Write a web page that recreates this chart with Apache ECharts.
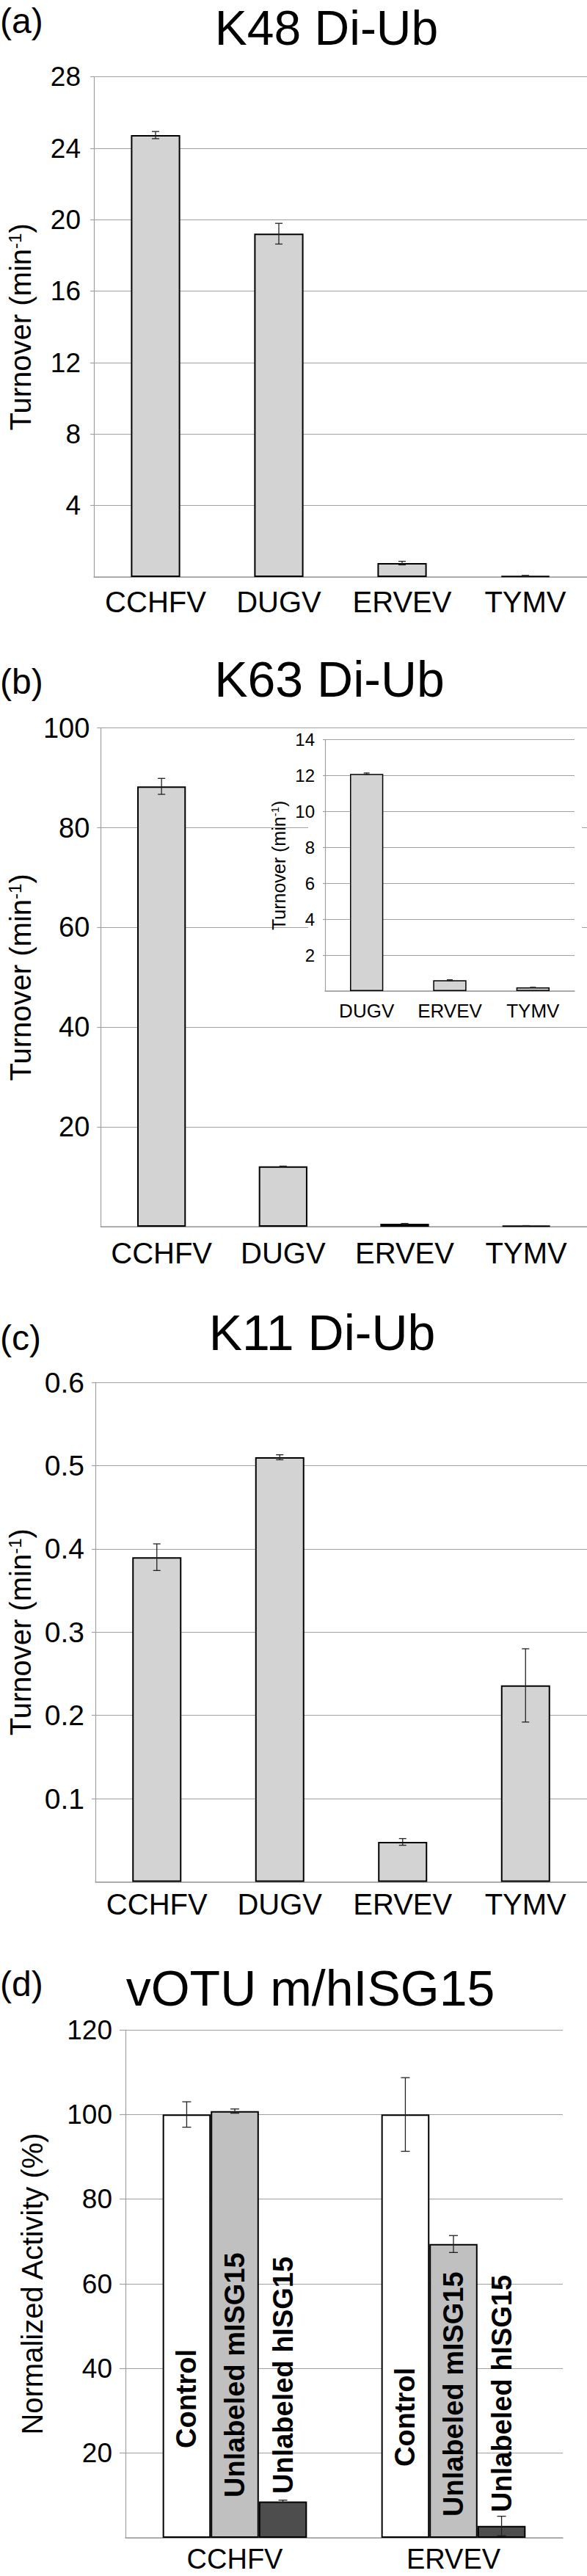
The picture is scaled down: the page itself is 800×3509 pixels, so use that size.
<!DOCTYPE html>
<html lang="en">
<head>
<meta charset="UTF-8">
<title>vOTU Di-Ub / ISG15</title>
<script src="https://cdn.jsdelivr.net/npm/echarts@6/dist/echarts.min.js"></script>
</head>
<body style="margin:0;width:800px;height:3509px;background:#fff">
<div id="container" style="width:800px;height:3509px"></div>
<script>
// (a) K48 Di-Ub
var virusCats = ['CCHFV', 'DUGV', 'ERVEV', 'TYMV'];
var k48Vals = [24.74, 19.22, 0.78, 0.07];
var k48Err = [0.2, 0.58, 0.1, 0.02];
// (b) K63 Di-Ub + inset
var k63Vals = [88.3, 12.1, 0.6, 0.2];
var k63Err = [1.6, 0.05, 0.05, 0.02];
var insetCats = ['DUGV', 'ERVEV', 'TYMV'];
var insetVals = [12.1, 0.6, 0.2];
var insetErr = [0.05, 0.03, 0.01];
// (c) K11 Di-Ub
var k11Vals = [0.39, 0.51, 0.048, 0.236];
var k11Err = [0.016, 0.003, 0.004, 0.044];
// (d) vOTU m/hISG15
var isgCats = ['CCHFV', 'ERVEV'];
var controlVals = [100, 100];
var controlErr = [3, 8.7];
var mIsgVals = [100.8, 69.4];
var mIsgErr = [0.5, 2];
var hIsgVals = [8.6, 2.8];
var hIsgErr = [0.3, 2.3];

// label lift above the bar bottom (px), per group
var ctrlLift = [122, 97];
var mLift = [55, 29];
var hLift = [60, 35];

var FONT = '"Liberation Sans", Arial, sans-serif';
var GRID = '#a0a0a0';

var dom = document.getElementById('container');
var myChart = echarts.init(dom, null, {renderer: 'svg'});

function turnoverName() {
    return '{n|Turnover (min}{s|-1}{n|)}';
}
function turnoverRich(fs) {
    return {
        n: {fontSize: fs, fontFamily: FONT, color: '#000'},
        s: {fontSize: Math.round(fs * 0.6), fontFamily: FONT, color: '#000', verticalAlign: 'top'}
    };
}

function catAxis(gi, data, fs, margin, z, lh) {
    var lab = {fontSize: fs, color: '#000', margin: margin, interval: 0, fontFamily: FONT};
    if (lh) lab.lineHeight = lh;
    return {
        type: 'category', gridIndex: gi, data: data, z: z || 0,
        axisTick: {show: false},
        axisLine: {lineStyle: {color: GRID, width: 1.5}},
        axisLabel: lab
    };
}
function valAxis(gi, max, step, fs, margin, tick, name, rich, nameGap, z) {
    return {
        type: 'value', gridIndex: gi, min: 0, max: max, interval: step, z: z || 0,
        axisLine: {show: true, lineStyle: {color: GRID, width: 1.2}},
        axisTick: {show: true, length: tick, lineStyle: {color: GRID, width: 1.2}},
        splitLine: {lineStyle: {color: GRID, width: 1.2}},
        axisLabel: {fontSize: fs, color: '#000', margin: margin, showMinLabel: false, fontFamily: FONT},
        name: name, nameLocation: 'middle', nameGap: nameGap,
        nameTextStyle: rich
    };
}

function errSeries(ai, vals, errs, shift, cap, z) {
    return {
        type: 'custom', coordinateSystem: 'cartesian2d',
        xAxisIndex: ai, yAxisIndex: ai, z: z || 5, silent: true,
        data: vals.map(function (v, i) { return [i, v - errs[i], v + errs[i]]; }),
        renderItem: function (params, api) {
            var lo = api.coord([api.value(0), api.value(1)]);
            var hi = api.coord([api.value(0), api.value(2)]);
            var band = api.size([1, 0])[0];
            var x = lo[0] + band * shift;
            var st = {stroke: '#222', lineWidth: 1.3};
            return {
                type: 'group',
                children: [
                    {type: 'line', shape: {x1: x, y1: lo[1], x2: x, y2: hi[1]}, style: st},
                    {type: 'line', shape: {x1: x - cap, y1: lo[1], x2: x + cap, y2: lo[1]}, style: st},
                    {type: 'line', shape: {x1: x - cap, y1: hi[1], x2: x + cap, y2: hi[1]}, style: st}
                ]
            };
        }
    };
}

function grayBars(ai, vals, bw, z) {
    return {
        type: 'bar', xAxisIndex: ai, yAxisIndex: ai, data: vals, barWidth: '40%', z: z || 2,
        itemStyle: {color: '#d3d3d3', borderColor: '#000', borderWidth: bw}
    };
}

function isgBars(vals, lifts, fill, text) {
    return {
        type: 'bar', xAxisIndex: 4, yAxisIndex: 4, barWidth: '22%', barGap: '0%',
        data: vals.map(function (v, i) {
            return {value: v, label: {distance: lifts[i]}};
        }),
        itemStyle: {color: fill, borderColor: '#000', borderWidth: 2},
        label: {
            show: true, position: 'insideBottom', rotate: 90, align: 'left', verticalAlign: 'middle',
            fontSize: 38, fontWeight: 'bold', color: '#000', fontFamily: FONT,
            formatter: text
        }
    };
}

function txt(x, y, s, size, align, lh) {
    return {
        type: 'text', x: x, y: y, z: 10,
        style: {text: s, font: size + 'px ' + FONT, fill: '#000', align: align,
            verticalAlign: 'middle', lineHeight: lh}
    };
}

var option = {
    animation: false,
    textStyle: {fontFamily: FONT},
    grid: [
        {left: 121, top: 104.7, width: 679, height: 681.3},
        {left: 125, top: 991.7, width: 675, height: 679.3},
        {left: 443, top: 1007.7, width: 340, height: 342.3},
        {left: 125, top: 1883, width: 675, height: 680.5},
        {left: 171, top: 2765, width: 596, height: 692}
    ],
    xAxis: [
        catAxis(0, virusCats, 40, 14),
        catAxis(1, virusCats, 40, 16),
        catAxis(2, insetCats, 26, 14, 2),
        catAxis(3, virusCats, 40, 10),
        catAxis(4, isgCats, 38, 15, 0, 28)
    ],
    yAxis: [
        valAxis(0, 28, 4, 37, 18, 5, turnoverName(), {rich: turnoverRich(40)}, 80),
        valAxis(1, 100, 20, 38, 15, 5, turnoverName(), {rich: turnoverRich(40)}, 84),
        valAxis(2, 14, 2, 24, 14, 3, turnoverName(), {rich: turnoverRich(25)}, 51, 2),
        valAxis(3, 0.6, 0.1, 39, 15, 5, turnoverName(), {rich: turnoverRich(40)}, 82),
        valAxis(4, 120, 20, 37, 18, 8, 'Normalized Activity (%)', {fontSize: 40, color: '#000', fontFamily: FONT}, 107)
    ],
    graphic: [
        {type: 'rect', z: 1, shape: {x: 420, y: 995, width: 373, height: 400}, style: {fill: '#fff'}},
        txt(0, 28, '(a)', 48, 'left', 44),
        txt(445, 38, 'K48 Di-Ub', 66, 'center', 52),
        txt(0, 928, '(b)', 48, 'left', 44),
        txt(449, 925, 'K63 Di-Ub', 68, 'center', 52),
        txt(0, 1822, '(c)', 48, 'left', 44),
        txt(439, 1815, 'K11 Di-Ub', 68, 'center', 52),
        txt(0, 2702, '(d)', 48, 'left', 44),
        txt(423, 2708, 'vOTU m/hISG15', 68, 'center', 52)
    ],
    series: [
        grayBars(0, k48Vals, 2),
        errSeries(0, k48Vals, k48Err, 0, 5),
        grayBars(1, k63Vals, 2),
        errSeries(1, k63Vals, k63Err, 0, 5),
        grayBars(2, insetVals, 1.5, 3),
        errSeries(2, insetVals, insetErr, 0, 4, 6),
        grayBars(3, k11Vals, 2),
        errSeries(3, k11Vals, k11Err, 0, 5),
        isgBars(controlVals, ctrlLift, '#ffffff', 'Control'),
        isgBars(mIsgVals, mLift, '#c0c0c0', 'Unlabeled mISG15'),
        isgBars(hIsgVals, hLift, '#4d4d4d', 'Unlabeled hISG15'),
        errSeries(4, controlVals, controlErr, -0.22, 6),
        errSeries(4, mIsgVals, mIsgErr, 0, 6),
        errSeries(4, hIsgVals, hIsgErr, 0.22, 6)
    ]
};

if (option && typeof option === 'object') {
    myChart.setOption(option, true);
}
</script>
</body>
</html>
